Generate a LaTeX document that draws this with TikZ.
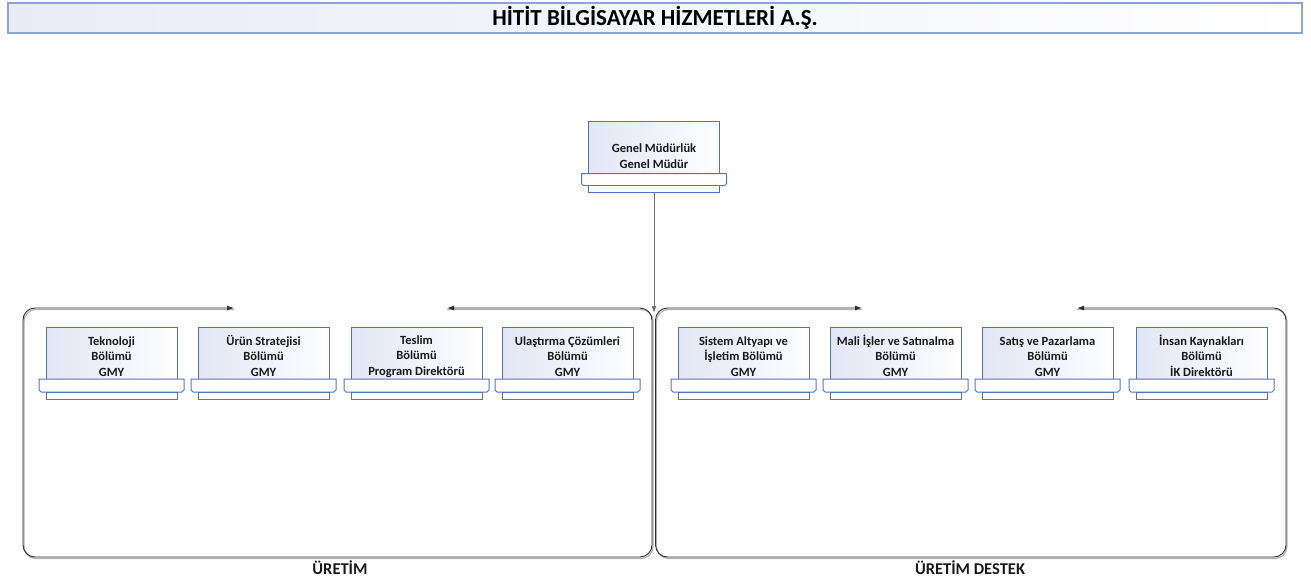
\documentclass[tikz,border=0pt]{standalone}
\usepackage{fontspec}
\setmainfont{Carlito}
\usetikzlibrary{arrows.meta}
\usetikzlibrary{calc}
\usepackage{xcolor}

\definecolor{boxblue}{HTML}{5474B8}
\definecolor{boxfill}{HTML}{E2E5F4}
\definecolor{titleblue}{HTML}{8CA3D3}
\definecolor{titlefill}{HTML}{E9ECF7}
\definecolor{lanegray}{HTML}{2E2E2E}
\definecolor{shadowgray}{HTML}{B0B0B0}

\tikzset{
  unitbox/.style={draw=boxblue, line width=1, left color=boxfill, right color=white, minimum width=131, minimum height=52,
    inner sep=1pt, outer sep=0pt, align=center, text=black!90, font=\bfseries\fontsize{12.5}{15.5}\selectfont},
  shelfbox/.style={draw=boxblue, line width=1, fill=white},
  basebox/.style={draw=boxblue, line width=1, fill=white, minimum width=131, minimum height=7, inner sep=0pt, outer sep=0pt},
  lane/.style={draw=lanegray, line width=0.9, rounded corners=12, {Latex[length=7,width=5]}-{Latex[length=7,width=5]}},
  laneshadow/.style={draw=shadowgray, line width=1.2, rounded corners=12},
  feed/.style={draw=black!55, line width=0.9, -{Latex[length=7,width=5]}, black!55},
  lanename/.style={font=\bfseries\fontsize{16.5}{18}\selectfont, text=black!90}
}

\begin{document}
\begin{tikzpicture}[x=1pt,y=-1pt]
      \useasboundingbox (0,0) rectangle (1311,581);

      % Title
      \node[draw=titleblue, line width=1.1, left color=titlefill, right color=white, minimum width=1294, minimum height=30,
        inner sep=0pt, font=\bfseries\fontsize{23}{25}\selectfont, text=black] (title) at (655,18) {HİTİT BİLGİSAYAR HİZMETLERİ A.Ş.};

      % Lanes
      \draw[laneshadow] (234,309.5) -- (24,309.5) -- (24,558.5) -- (653,558.5) -- (653,309.5) -- (447,309.5);
      \draw[laneshadow] (862,309.5) -- (656.5,309.5) -- (656.5,558.5) -- (1287,558.5) -- (1287,309.5) -- (1077,309.5);
      \draw[lane] (234,308) -- (23,308) -- (23,557) -- (652,557) -- (652,308) -- (447,308);
      \draw[lane] (862,308) -- (655.5,308) -- (655.5,557) -- (1286,557) -- (1286,308) -- (1077,308);
      \node[lanename] (uretim) at (340,568) {ÜRETİM};
      \node[lanename] (destek) at (970,568) {ÜRETİM DESTEK};

      % General manager
      \node[unitbox] (gm) at (654,147.5) {\mbox{}\\[11pt]Genel Müdürlük\\Genel Müdür};
      \draw[shelfbox] ($(gm.south west)+(-7,0)$) -- ($(gm.south east)+(7,0)$) -- ++(0,10) -- ++(-2,2)
        -- ($(gm.south west)+(-5,12)$) -- ++(-2,-2) -- cycle;
      \node[basebox, anchor=north] (gmbase) at ($(gm.south)+(0,12)$) {};
      \coordinate (join) at (654,313);
      \draw[feed] (gmbase.south) -- (join);

      % Departments
      \foreach \n/\cx/\txt in {tek/111.5/{Teknoloji\\Bölümü\\GMY},
                               urun/263.5/{Ürün Stratejisi\\Bölümü\\GMY},
                               teslim/416.5/{Teslim\\Bölümü\\Program Direktörü},
                               ulas/567.5/{Ulaştırma Çözümleri\\Bölümü\\GMY},
                               sistem/743.5/{Sistem Altyapı ve\\İşletim Bölümü\\GMY},
                               mali/895.5/{Mali İşler ve Satınalma\\Bölümü\\GMY},
                               satis/1047.5/{Satış ve Pazarlama\\Bölümü\\GMY},
                               ik/1201.5/{İnsan Kaynakları\\Bölümü\\İK Direktörü}}
      {
        \node[unitbox] (\n) at (\cx,353) {\mbox{}\\\txt};
        \draw[shelfbox] ($(\n.south west)+(-7,0)$) -- ($(\n.south east)+(7,0)$) -- ++(0,11) -- ++(-2,2)
          -- ($(\n.south west)+(-5,13)$) -- ++(-2,-2) -- cycle;
        \node[basebox, anchor=north] (\n base) at ($(\n.south)+(0,13)$) {};
      }

  \end{tikzpicture}
\end{document}
